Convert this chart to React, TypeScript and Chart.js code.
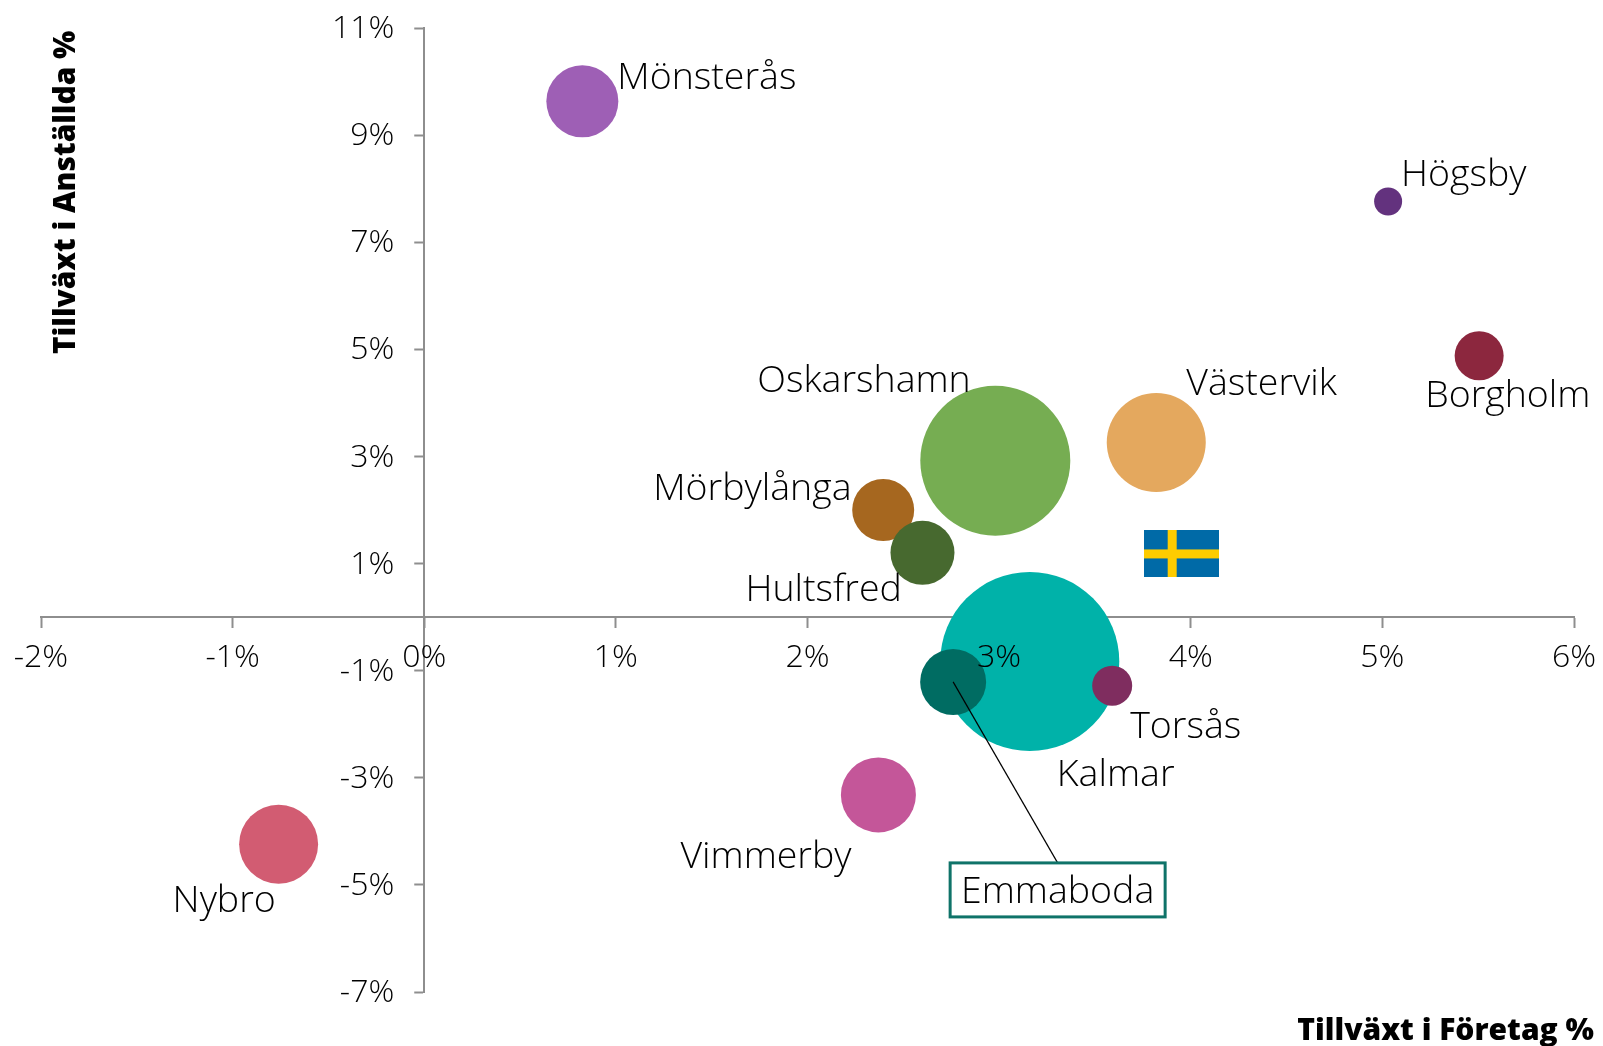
import React, { useEffect, useRef } from "react";
import { Chart, registerables } from "chart.js";

Chart.register(...registerables);

const municipalities = ["Kalmar", "Oskarshamn", "Västervik", "Mönsterås", "Högsby", "Borgholm", "Mörbylånga", "Hultsfred", "Vimmerby", "Nybro", "Emmaboda", "Torsås"];
const companyGrowth = [3.16, 2.98, 3.82, 0.825, 5.03, 5.505, 2.395, 2.6, 2.37, -0.76, 2.76, 3.59];
const employeeGrowth = [-0.83, 2.92, 3.26, 9.63, 7.76, 4.88, 2.0, 1.2, -3.32, -4.24, -1.21, -1.28];
const bubbleSizes = [89.5, 75, 49.5, 36, 14, 24.5, 31, 32, 37.5, 39.5, 33, 20];
const bubbleColors = ["#00B2A9", "#76AD52", "#E4A85E", "#9E5FB5", "#63327E", "#8C273E", "#A6671F", "#47692F", "#C45699", "#D25C72", "#006C62", "#7F2D5F"];
const labelOffsets: [number, number][] = [[27, 114], [-238, -79], [30, -58], [35, -23], [13, -26], [-54, 41], [-230, -21], [-177, 37], [-198, 62], [-106, 57], [0, 0], [18, 42]];
const swedenPoint = { x: 3.95, y: 1.18 };
const xRange = [-2, 6];
const yRange = [-7, 11];
const xTitle = "Tillväxt i Företag %";
const yTitle = "Tillväxt i Anställda %";

const FONT = "'Open Sans', sans-serif";
const AXIS = "#8E8E8E";
const TEAL = "#0F7369";

function makeFlag() {
  const c = document.createElement("canvas");
  c.width = 75;
  c.height = 47;
  const g = c.getContext("2d")!;
  g.fillStyle = "#006AA7";
  g.fillRect(0, 0, 75, 47);
  g.fillStyle = "#FECC00";
  g.fillRect(24, 0, 9, 47);
  g.fillRect(0, 19, 75, 9);
  return c;
}

const labelPlugin = {
  id: "cityLabels",
  afterLayout(chart: any) {
    const s = chart.scales;
    s.y.left = 0;
    s.y.right = s.x.getPixelForValue(0);
  },
  afterDatasetsDraw(chart: any) {
    const { ctx } = chart;
    const meta = chart.getDatasetMeta(0).data;
    ctx.save();
    ctx.textBaseline = "middle";
    ctx.textAlign = "left";
    ctx.fillStyle = "#000";
    ctx.font = `300 37.5px ${FONT}`;
    municipalities.forEach((name, i) => {
      if (name === "Emmaboda") return;
      ctx.fillText(name, meta[i].x + labelOffsets[i][0], meta[i].y + labelOffsets[i][1]);
    });
    const idx = municipalities.indexOf("Emmaboda");
    const p = meta[idx];
    const bx = p.x - 3;
    const by = p.y + 181;
    const bw = 215;
    const bh = 54;
    ctx.strokeStyle = "#000";
    ctx.lineWidth = 1.2;
    ctx.beginPath();
    ctx.moveTo(p.x, p.y);
    ctx.lineTo(bx + bw / 2, by);
    ctx.stroke();
    ctx.fillStyle = "#fff";
    ctx.strokeStyle = TEAL;
    ctx.lineWidth = 3;
    ctx.fillRect(bx, by, bw, bh);
    ctx.strokeRect(bx, by, bw, bh);
    ctx.fillStyle = "#000";
    ctx.textAlign = "center";
    ctx.fillText("Emmaboda", bx + bw / 2, by + bh / 2 + 2);
    ctx.restore();
  },
  afterDraw(chart: any) {
    const { ctx } = chart;
    ctx.save();
    ctx.fillStyle = "#000";
    ctx.font = `800 30px ${FONT}`;
    ctx.textBaseline = "middle";
    ctx.textAlign = "right";
    ctx.fillText(xTitle, 1594, 1031);
    ctx.translate(67, 354);
    ctx.rotate(-Math.PI / 2);
    ctx.textAlign = "left";
    ctx.font = `800 29.8px ${FONT}`;
    ctx.fillText(yTitle, 0, 0);
    ctx.restore();
  },
};

const clearPadding = (scale: any) => {
  scale.paddingLeft = 0;
  scale.paddingRight = 0;
  scale.paddingTop = 0;
  scale.paddingBottom = 0;
};

export default function App() {
  const ref = useRef<HTMLCanvasElement>(null);
  useEffect(() => {
    const chart = new Chart(ref.current!, {
      type: "bubble",
      data: {
        datasets: [
          {
            label: "Kommuner",
            data: municipalities.map((_, i) => ({ x: companyGrowth[i], y: employeeGrowth[i], r: bubbleSizes[i] })),
            backgroundColor: bubbleColors,
            borderWidth: 0,
            hoverBorderWidth: 0,
            clip: false,
          },
          {
            label: "Sverige",
            data: [{ x: swedenPoint.x, y: swedenPoint.y, r: 24 }],
            pointStyle: makeFlag(),
            borderWidth: 0,
            clip: false,
          },
        ],
      } as any,
      options: {
        responsive: false,
        animation: false,
        events: [],
        layout: { autoPadding: false, padding: { left: 41, right: 29, top: 28, bottom: 54 } },
        plugins: { legend: { display: false }, tooltip: { enabled: false } },
        scales: {
          x: {
            type: "linear",
            min: xRange[0],
            max: xRange[1],
            position: { y: 0 },
            afterFit: clearPadding,
            grid: { drawOnChartArea: false, color: AXIS, tickLength: 10, tickWidth: 2 },
            border: { color: AXIS, width: 2 },
            ticks: {
              stepSize: 1,
              z: 1,
              padding: 12,
              color: "#000",
              maxRotation: 0,
              font: { family: FONT, size: 32, weight: "300" },
              callback: (v: any) => `${v}%`,
            },
          },
          y: {
            type: "linear",
            min: yRange[0],
            max: yRange[1],
            position: "left",
            afterFit: (scale: any) => {
              clearPadding(scale);
              scale.width = 0;
            },
            grid: { drawOnChartArea: false, color: AXIS, tickLength: 10, tickWidth: 2 },
            border: { color: AXIS, width: 2 },
            ticks: {
              stepSize: 2,
              z: 1,
              padding: 20,
              labelOffset: 1,
              color: "#000",
              font: { family: FONT, size: 32, weight: "300" },
              callback: (v: any) => `${v}%`,
            },
          },
        },
      } as any,
      plugins: [labelPlugin],
    });
    return () => chart.destroy();
  }, []);
  return (
    <div style={{ position: "absolute", left: 0, top: 0, width: 1603, height: 1046, background: "#fff" }}>
      <canvas ref={ref} width={1603} height={1046} style={{ display: "block" }} />
    </div>
  );
}
